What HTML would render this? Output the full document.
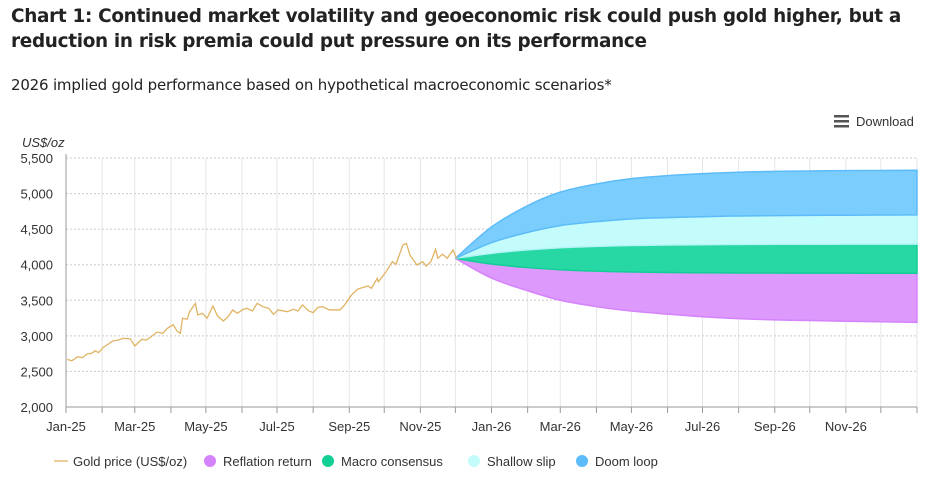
<!DOCTYPE html>
<html><head><meta charset="utf-8"><style>
body{margin:0;background:#fff;font-family:"Liberation Sans",sans-serif;}
#wrap{position:relative;width:936px;height:479px;overflow:hidden;}
.t{position:absolute;left:11px;top:4px;font-size:18.4px;font-weight:bold;color:#222;line-height:25px;width:900px;font-family:"DejaVu Sans","Liberation Sans",sans-serif;letter-spacing:-0.3px}
.s{position:absolute;left:11px;top:76px;font-size:15px;color:#222;font-family:"DejaVu Sans","Liberation Sans",sans-serif;letter-spacing:-0.2px}
svg text{font-family:"Liberation Sans",sans-serif;}
</style></head><body><div id="wrap">
<div class="t">Chart 1: Continued market volatility and geoeconomic risk could push gold higher, but a reduction in risk premia could put pressure on its performance</div>
<div class="s">2026 implied gold performance based on hypothetical macroeconomic scenarios*</div>
<svg id="svg" width="936" height="479" style="position:absolute;left:0;top:0"></svg>
</div>
<script>
const goldDays=[1,5,10,14,18,22,25,28,32,36,40,45,49,55,59,65,69,74,78,83,87,92,95,98,100,104,106,111,113,117,121,126,130,135,139,143,147,152,155,160,164,169,174,178,182,190,195,199,203,208,212,216,220,226,235,239,245,250,254,259,262,267,268,274,280,283,289,292,295,301,306,309,313,317,319,323,327,332,335];
const goldVals=[2670,2650,2707,2693,2745,2755,2790,2763,2840,2880,2928,2942,2965,2960,2857,2951,2942,3000,3054,3036,3106,3157,3072,3036,3247,3233,3340,3457,3293,3317,3247,3420,3280,3209,3269,3364,3317,3373,3387,3350,3457,3410,3387,3303,3364,3340,3373,3350,3434,3354,3326,3401,3410,3364,3364,3434,3575,3654,3677,3701,3668,3809,3761,3888,4042,4006,4277,4300,4137,3996,4042,3982,4042,4217,4091,4147,4091,4207,4090];
const fanDays=[334,365,396,424,455,485,516,546,577,608,638,669,699,730];
const doomTop=[4090,4530,4830,5020,5135,5210,5252,5280,5300,5312,5318,5322,5325,5328];
const shallowTop=[4090,4310,4455,4550,4605,4645,4662,4675,4685,4690,4694,4696,4698,4700];
const macroTop=[4090,4160,4208,4238,4257,4270,4277,4281,4285,4287,4288,4289,4290,4290];
const macroBottom=[4090,4010,3960,3930,3910,3898,3891,3887,3884,3883,3882,3881,3880,3880];
const reflationBottom=[4090,3812,3634,3500,3411,3349,3305,3269,3242,3224,3215,3206,3198,3190];
const yTicks=[2000,2500,3000,3500,4000,4500,5000,5500];
const xLabels=["Jan-25","Mar-25","May-25","Jul-25","Sep-25","Nov-25","Jan-26","Mar-26","May-26","Jul-26","Sep-26","Nov-26"];
const monthStarts=[0,31,59,90,120,151,181,212,243,273,304,334,365,396,424,455,485,516,546,577,608,638,669,699,730];

const NS="http://www.w3.org/2000/svg",svg=document.getElementById('svg');
const X0=66,X1=917,Y0=407,Y1=158;
const x=d=>X0+(d/730)*(X1-X0);
const y=v=>Y0-(v-2000)/3500*(Y0-Y1);
function el(t,a,p){const e=document.createElementNS(NS,t);for(const k in a)e.setAttribute(k,a[k]);(p||svg).appendChild(e);return e;}
monthStarts.forEach(d=>{const l=el('line',{x1:x(d),x2:x(d),y1:Y1,y2:Y0,stroke:'#e6e6e6','stroke-width':1});


const t=el('line',{x1:x(d),x2:x(d),y1:Y0,y2:Y0+6,stroke:'#999'});

});
yTicks.forEach(v=>{const l=el('line',{x1:X0,x2:X1,y1:y(v),y2:y(v),stroke:'#ccc','stroke-dasharray':'2,2'});


const t=el('text',{x:53,y:y(v)+5,'text-anchor':'end','font-size':13,fill:'#333'});t.textContent=v.toLocaleString('en-US');

});
const ax=el('line',{x1:X0,x2:X1,y1:Y0,y2:Y0,stroke:'#999'});


const ay=el('line',{x1:X0,x2:X0,y1:Y1-4,y2:Y0,stroke:'#999'});


xLabels.forEach((s,i)=>{const t=el('text',{x:x(monthStarts[i*2]),y:431,'text-anchor':'middle','font-size':13,fill:'#333'});t.textContent=s;

});
const yt=el('text',{x:22,y:147,'font-size':13,'font-style':'italic',fill:'#333'});yt.textContent='US$/oz';


function pts(arr){return fanDays.map((d,i)=>[x(d),y(arr[i])]);}
function smooth(p){let s='';for(let i=0;i<p.length-1;i++){const p0=p[i-1]||p[i],p1=p[i],p2=p[i+1],p3=p[i+2]||p2;
const c1=[p1[0]+(p2[0]-p0[0])/6,p1[1]+(p2[1]-p0[1])/6],c2=[p2[0]-(p3[0]-p1[0])/6,p2[1]-(p3[1]-p1[1])/6];
s+=` C${c1[0]},${c1[1]} ${c2[0]},${c2[1]} ${p2[0]},${p2[1]}`;}return s;}
function band(top,bot,fill,stroke,name){const a=pts(top),b=pts(bot).reverse();
const d=`M${a[0][0]},${a[0][1]}`+smooth(a)+` L${b[0][0]},${b[0][1]}`+smooth(b)+'Z';
const p=el('path',{d,fill,stroke,'stroke-width':1.5});

}
band(macroBottom,reflationBottom,'#dd99fc','#d583fb','reflation-return-band');
band(macroTop,macroBottom,'#27d8a5','#10cf94','macro-consensus-band');
band(shallowTop,macroTop,'#c4fcfc','#b4f4f6','shallow-slip-band');
band(doomTop,shallowTop,'#7bcdfd','#5cbcf9','doom-loop-band');
const gl=el('polyline',{points:goldDays.map((d,i)=>x(d)+','+y(goldVals[i])).join(' '),fill:'none',stroke:'#e0b464','stroke-width':1.3});


const leg=[['line','#e0b464','Gold price (US$/oz)',54],['dot','#d583fb','Reflation return',205],['dot','#10cf94','Macro consensus',323],['dot','#c4fcfc','Shallow slip',469],['dot','#5cbcf9','Doom loop',577]];
leg.forEach(([k,c,s,lx])=>{const g=el('g',{});


if(k==='line')el('line',{x1:lx,x2:lx+14,y1:461,y2:461,stroke:c,'stroke-width':1.3},g);else el('circle',{cx:lx+5,cy:461,r:6,fill:c},g);
const t=el('text',{x:k==='line'?lx+19:lx+18,y:466,'font-size':13,fill:'#333'},g);t.textContent=s;});
const dg=el('g',{});


[115,120,125].forEach(yy=>el('rect',{x:834,y:yy,width:15,height:2.5,fill:'#555'},dg));
const dt=el('text',{x:856,y:126,'font-size':13,fill:'#333'},dg);dt.textContent='Download';
</script></body></html>
